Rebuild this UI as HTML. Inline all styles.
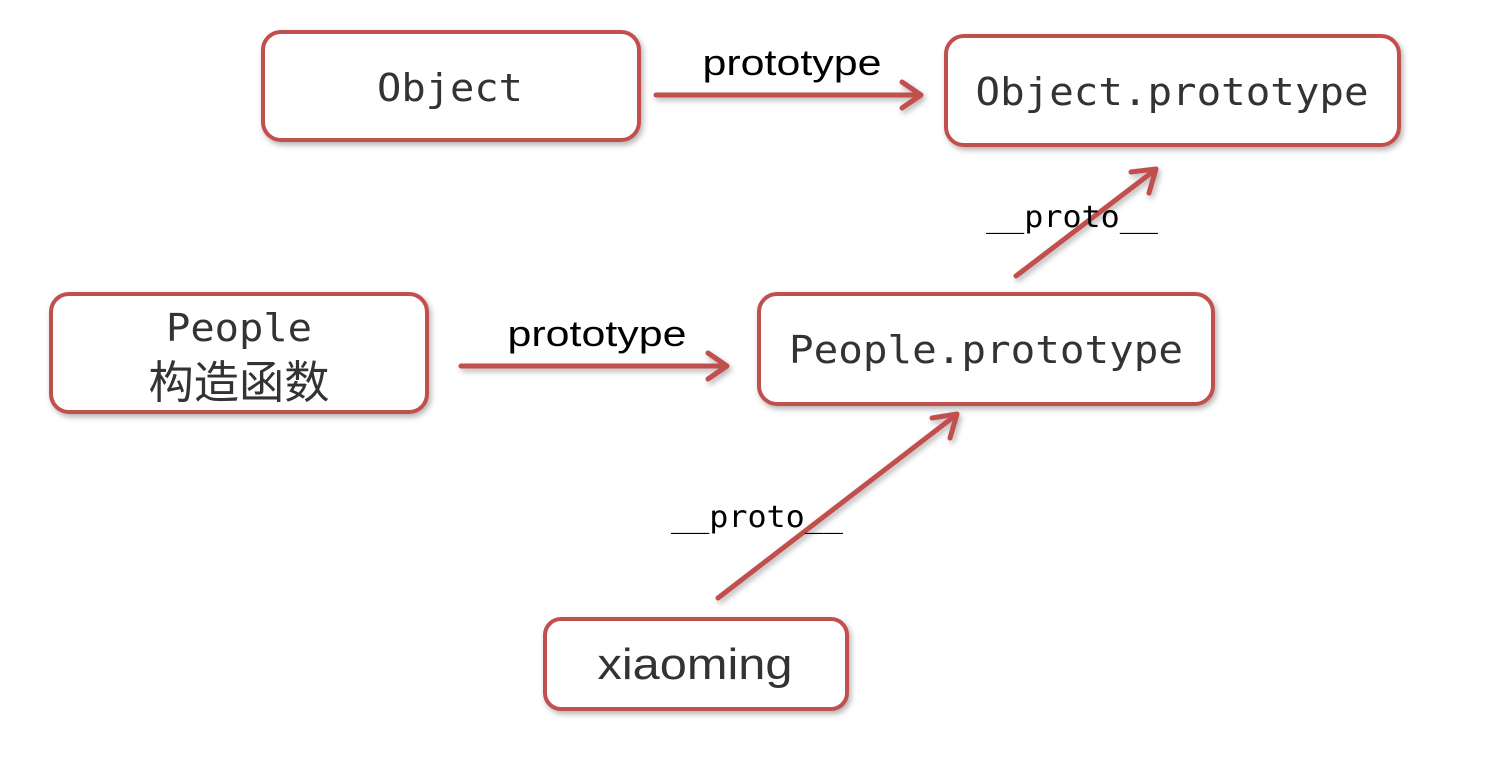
<!DOCTYPE html>
<html><head><meta charset="utf-8"><style>html,body{margin:0;padding:0;background:#fff}</style></head>
<body>
<svg width="1500" height="752" viewBox="0 0 1500 752" xmlns="http://www.w3.org/2000/svg">
<defs>
<filter id="sh" x="-10%" y="-10%" width="120%" height="130%"><feDropShadow dx="2" dy="3" stdDeviation="3" flood-color="#000" flood-opacity="0.3"/></filter>
</defs>
<rect width="1500" height="752" fill="#fff"/>
<g fill="#fff" stroke="#c0504d" stroke-width="4" filter="url(#sh)">
<rect x="263" y="32" width="376" height="108" rx="18"/>
<rect x="946" y="36" width="453" height="109" rx="18"/>
<rect x="51" y="294" width="376" height="118" rx="18"/>
<rect x="759" y="294" width="454" height="110" rx="18"/>
<rect x="545" y="619" width="302" height="90" rx="16"/>
</g>
<g stroke="#c0504d" stroke-width="5" fill="none" stroke-linecap="round" stroke-linejoin="round" filter="url(#sh)">
<line x1="656" y1="95" x2="920" y2="95"/><polyline points="902,82 921,95 902,108"/>
<line x1="461" y1="366" x2="726" y2="366"/><polyline points="708,353 727,366 708,379"/>
<line x1="718" y1="598" x2="956" y2="415"/><polyline points="932,418 957,414 950,438"/>
<line x1="1016" y1="276" x2="1155" y2="170"/><polyline points="1131,172 1156,169 1149,193"/>
</g>
<g font-family="DejaVu Sans Mono, monospace" fill="#333" text-anchor="middle">
<text x="450" y="101" font-size="38" textLength="146" lengthAdjust="spacingAndGlyphs">Object</text>
<text x="1172" y="105" font-size="38" textLength="393" lengthAdjust="spacingAndGlyphs">Object.prototype</text>
<text x="239" y="341" font-size="38" textLength="146" lengthAdjust="spacingAndGlyphs">People</text>
<text x="986" y="363" font-size="38" textLength="394" lengthAdjust="spacingAndGlyphs">People.prototype</text>
</g>
<text x="239" y="398" font-family="Noto Sans CJK SC, sans-serif" font-size="45" fill="#333" text-anchor="middle" textLength="181" lengthAdjust="spacingAndGlyphs">构造函数</text>
<text x="695" y="679" font-family="Liberation Sans, sans-serif" font-size="44" fill="#333" text-anchor="middle" textLength="195" lengthAdjust="spacingAndGlyphs">xiaoming</text>
<g font-family="Liberation Sans, sans-serif" fill="#000" text-anchor="middle" font-size="36">
<text x="792" y="75" textLength="179" lengthAdjust="spacingAndGlyphs">prototype</text>
<text x="597" y="346" textLength="179" lengthAdjust="spacingAndGlyphs">prototype</text>
</g>
<g font-family="DejaVu Sans Mono, monospace" fill="#000" text-anchor="middle" font-size="30">
<text x="1072" y="227" textLength="172" lengthAdjust="spacingAndGlyphs">__proto__</text>
<text x="757" y="527" textLength="172" lengthAdjust="spacingAndGlyphs">__proto__</text>
</g>
</svg>
</body></html>
